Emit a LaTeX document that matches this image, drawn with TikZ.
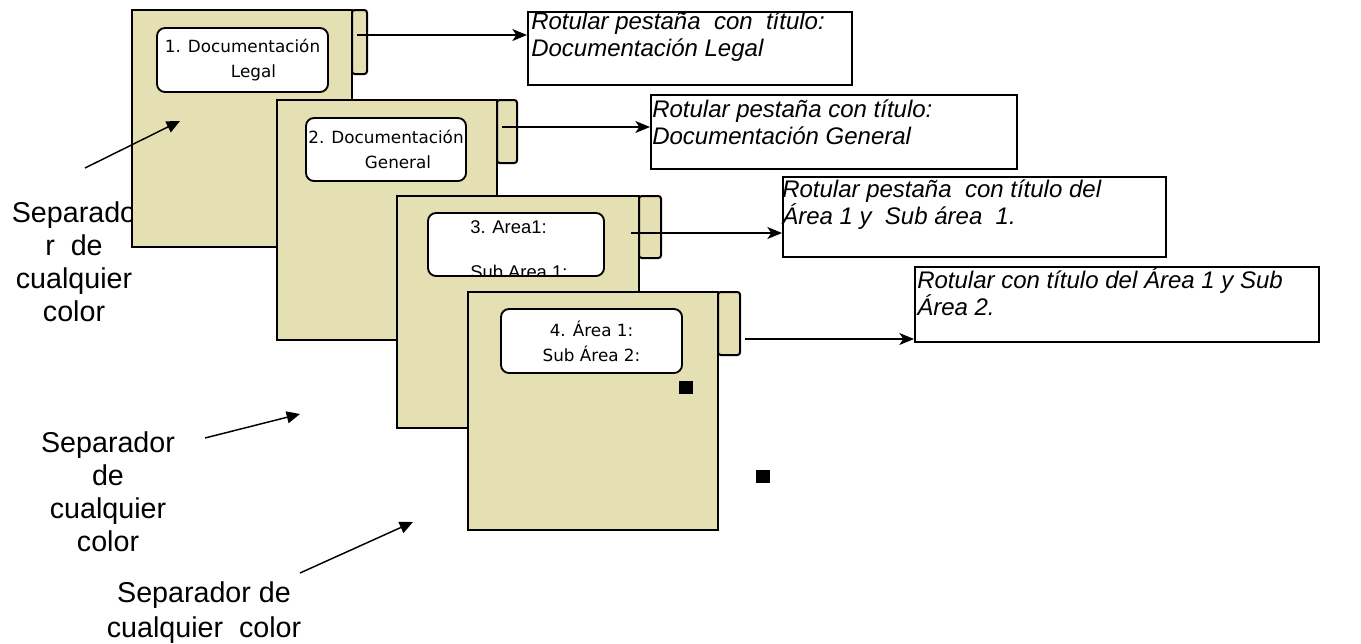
\documentclass[tikz,border=0pt]{standalone}
\usepackage{fontspec}
\setmainfont{Liberation Sans}
\newfontfamily\comicf{DejaVu Sans}
\usetikzlibrary{arrows.meta}
\definecolor{sepfill}{RGB}{229,224,180}
\begin{document}
\begin{tikzpicture}[x=0.75pt,y=-0.75pt,
  sepbody/.style={draw=black, line width=1.5pt, fill=sepfill},
  septab/.style={draw=black, line width=1.5pt, fill=sepfill, rounded corners=2pt},
  lbox/.style={draw=black, line width=1.4pt, fill=white, rounded corners=6pt, inner sep=0pt},
  tbox/.style={draw=black, line width=1.2pt, fill=white, inner sep=0pt, anchor=north west},
  conn/.style={line width=1.1pt, -{Stealth[length=11pt,width=9pt,inset=3pt]}},
  ptr/.style={line width=1.1pt, -{Triangle[length=10pt,width=9pt]}},
  sidelabel/.style={font=\fontsize{21.5}{24.75}\selectfont, align=center, inner sep=0pt},
  tlabel/.style={font=\fontsize{18}{20.25}\selectfont\itshape, align=left, inner sep=0pt, anchor=north west},
  ctext/.style={font=\comicf\fontsize{12.6}{18.75}\selectfont, align=center},
  sq/.style={fill=black}
]
\useasboundingbox (0,0) rectangle (1361,643);

% side labels (drawn first, covered by separators)
\node[sidelabel] (labA) at (74,262) {Separado\\r~~de\\cualquier\\color};
\node[sidelabel] (labB) at (108,492) {Separador\\de\\cualquier\\color};
\node[sidelabel, font=\fontsize{21.5}{26.25}\selectfont] (labC) at (204,613) {Separador de\\cualquier~~color};

% separator 1
\draw[septab] (352,10) rectangle (367,74);
\draw[sepbody] (132,10) rectangle (352,247);
\node[lbox, ctext, minimum width=128.25pt, minimum height=48pt] (l1) at (242.5,60) {1. Documentación\\\hspace*{16.5pt}Legal};

% separator 2
\draw[septab] (497,100) rectangle (517,163);
\draw[sepbody] (277,100) rectangle (497,340);
\node[lbox, ctext, minimum width=120pt, minimum height=47.25pt] (l2) at (386,149.5) {2. Documentación\\\hspace*{18pt}General};

% separator 3
\draw[septab] (639,196) rectangle (661,258);
\draw[sepbody] (397,196) rectangle (639,428);
\node[lbox, minimum width=132pt, minimum height=47.25pt] (l3) at (516,244.5) {};
\begin{scope}
  \clip[rounded corners=6pt] (428,213) rectangle (604,275);
  \node[anchor=north west, inner sep=0pt, align=left, font=\fontsize{13.8}{16.9}\selectfont] (l3t) at (470,220) {3. Area1:\\[16.9pt]Sub Area 1:};
\end{scope}

% separator 4
\draw[septab] (718,292) rectangle (740,355);
\draw[sepbody] (468,292) rectangle (718,530);
\node[lbox, ctext, minimum width=135.75pt, minimum height=48pt] (l4) at (591.5,341) {4. Área 1:\\Sub Área 2:};

% squares
\fill[sq] (679,381) rectangle (693,394);
\fill[sq] (756,470) rectangle (770,483);

% text boxes
\node[tbox, minimum width=243pt, minimum height=54.75pt] (t1) at (527,11) {};
\node[tlabel] (t1t) at (531,7) {\rule{0pt}{16.5pt}Rotular pestaña~~con~~título:\\Documentación Legal};
\node[tbox, minimum width=274.5pt, minimum height=55.5pt] (t2) at (650,94) {};
\node[tlabel] (t2t) at (652,95) {\rule{0pt}{16.5pt}Rotular pestaña con título:\\Documentación General};
\node[tbox, minimum width=287.25pt, minimum height=60pt] (t3) at (782,176) {};
\node[tlabel] (t3t) at (782,175) {\rule{0pt}{16.5pt}Rotular pestaña~~con título del\\Área 1 y~~Sub área~~1.};
\node[tbox, minimum width=303pt, minimum height=56.25pt] (t4) at (914,266) {};
\node[tlabel] (t4t) at (917,266) {\rule{0pt}{16.5pt}Rotular con título del Área 1 y Sub\\Área 2.};

% connectors
\coordinate (a1) at (357,35);
\coordinate (a2) at (502,127);
\coordinate (a3) at (631,233);
\coordinate (a4) at (745,339);
\draw[conn] (a1) -- (a1 -| t1.west);
\draw[conn] (a2) -- (a2 -| t2.west);
\draw[conn] (a3) -- (a3 -| t3.west);
\draw[conn] (a4) -- (a4 -| t4.west);

% pointer arrows
\coordinate (pA0) at (85,168);  \coordinate (pA1) at (180,121);
\coordinate (pB0) at (205,438); \coordinate (pB1) at (300,414);
\coordinate (pC0) at (300,573); \coordinate (pC1) at (413,522);
\draw[ptr] (pA0) -- (pA1);
\draw[ptr] (pB0) -- (pB1);
\draw[ptr] (pC0) -- (pC1);
\end{tikzpicture}
\end{document}
